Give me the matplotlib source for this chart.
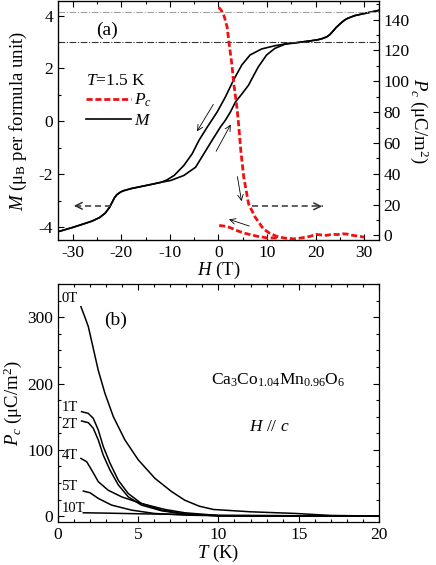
import numpy as np
import matplotlib
matplotlib.use('Agg')
import matplotlib.pyplot as plt
from matplotlib.ticker import MultipleLocator
from matplotlib.lines import Line2D

plt.rcParams['font.family'] = ['Liberation Serif', 'DejaVu Serif']
plt.rcParams['mathtext.fontset'] = 'custom'
plt.rcParams['mathtext.rm'] = 'Liberation Serif'
plt.rcParams['mathtext.it'] = 'Liberation Serif:italic'
plt.rcParams['mathtext.bf'] = 'Liberation Serif:bold'
plt.rcParams['axes.unicode_minus'] = False
plt.rcParams['font.size'] = 12

# ---------------- panel (a) data ----------------
# common low-field part (H < -12 T)
H_low = [-33, -32.2, -30, -27.8, -26, -24.4, -23.3, -22.4, -21.9, -21.4, -20.9, -20.3, -19.7, -18, -15.9, -13.8, -11.8]
M_low = [-4.18, -4.14, -4.02, -3.89, -3.78, -3.64, -3.48, -3.26, -3.08, -2.9, -2.78, -2.7, -2.64, -2.55, -2.47, -2.39, -2.31]
# branch measured with increasing field
H_inc = [-9.8, -7.1, -4.7, -3.0, -1.3, 0.4, 1.43, 2.45, 3.5, 4.8, 6.2, 7.2, 8.2, 9.9, 11.6, 13.7]
M_inc = [-2.24, -2.05, -1.74, -1.23, -0.72, -0.22, 0.04, 0.35, 0.73, 1.03, 1.37, 1.72, 2.06, 2.51, 2.76, 2.92]
# branch measured with decreasing field
H_dec = [14.4, 11.6, 8.9, 6.5, 4.8, 3.1, 1.43, -0.27, -2.3, -4.0, -5.4, -7.1, -9.1, -10.6]
M_dec = [2.95, 2.86, 2.74, 2.51, 2.13, 1.56, 0.92, 0.35, -0.22, -0.72, -1.23, -1.67, -2.05, -2.22]
# common high-field part (H > 15 T)
H_high = [15.4, 17, 19.1, 20.5, 21.5, 22.3, 22.9, 23.5, 24.2, 25.2, 26.0, 26.6, 28, 29.7, 31.5, 33]
M_high = [2.96, 3.0, 3.05, 3.09, 3.14, 3.2, 3.28, 3.4, 3.55, 3.72, 3.84, 3.9, 4.0, 4.07, 4.14, 4.2]

# Pc vs H: first sweep up from 0 T and return sweep
H_pc_up = [0.05, 0.6, 1.2, 1.8, 2.1, 2.8, 3.1, 3.8, 4.15, 4.6, 5.2, 6.2, 7.55, 9.25, 10.5, 12, 13.5, 15.4, 17, 18.8, 20.1, 21, 22.2, 23.5, 24.5, 25.6, 26.5, 27.6, 28.8, 30]
Pc_up = [148, 146, 142, 135, 127, 110, 100, 83, 72, 55, 38, 20.5, 11.9, 4.3, 1.5, -0.6, -1.6, -2.2, -1.6, -0.6, 0.7, 0.4, 0.1, 0.8, 0.6, 1.1, 0.9, 0.1, -0.4, -1.1]
H_pc_down = [12, 9.9, 8, 6.5, 5, 3.8, 2.8, 1.8, 1.0, 0.07]
Pc_down = [-1.6, -1.5, -0.5, 0.6, 1.8, 3.2, 4.6, 5.8, 6.2, 6.5]

M_ref_lines = [4.12, 2.99]

# ---------------- panel (b) data ----------------
T_0 = [1.43, 1.65, 1.89, 2.2, 2.51, 2.93, 3.45, 4.17, 5.0, 6.04, 7.08, 7.9, 8.8, 9.68, 12, 14.8, 17, 20]
P_0 = [316, 302, 286, 253, 220, 185, 150, 115, 85, 57, 37, 24, 15, 10, 6.5, 4, 1, 0]
T_1 = [1.47, 1.89, 2.2, 2.51, 2.82, 3.24, 3.76, 4.38, 5.2, 6.46, 7.9, 10, 20]
P_1 = [157.6, 155, 147.5, 130, 105, 80, 54, 34, 19, 9, 3, 0.5, 0]
T_2 = [1.47, 1.89, 2.2, 2.51, 2.82, 3.24, 3.76, 4.38, 5.2, 6.46, 7.9, 10, 20]
P_2 = [143.5, 141, 132.5, 115, 92, 69.5, 47, 29, 16.6, 8, 3, 0.5, 0]
T_4 = [1.43, 1.79, 2.1, 2.51, 3.13, 3.97, 5.2, 6.67, 7.9, 10, 20]
P_4 = [87, 82, 69.5, 52, 39, 29, 19, 10, 5, 1, 0]
T_5 = [1.58, 2.0, 2.51, 3.34, 4.59, 6.0, 7.9, 10, 20]
P_5 = [37.8, 35.2, 26.7, 16.6, 9, 4, 1.5, 0.5, 0]
T_10 = [1.58, 3, 5, 7.9, 10, 20]
P_10 = [5, 4.5, 3.5, 2.5, 1, 0]
curve_labels = ['0T', '1T', '2T', '4T', '5T', '10T']
label_P = [329, 164, 138, 92, 44, 12]

# ---------------- figure ----------------
fig = plt.figure(figsize=(4.36, 5.65), dpi=100)
ax = fig.add_axes([0.133, 0.575, 0.736, 0.423])
axb = fig.add_axes([0.133, 0.076, 0.736, 0.421])

TLS = 12.5   # tick label size
ALS = 13.5   # axis label size

def style(a, top=True, right=True):
    a.tick_params(which='both', direction='in', top=top, right=right, labelsize=TLS, width=0.8)
    a.tick_params(which='major', length=4)
    a.tick_params(which='minor', length=2.5)
    for s in a.spines.values():
        s.set_linewidth(0.9)

H_sweep_up = np.concatenate([H_low, H_inc, H_high])
M_sweep_up = np.concatenate([M_low, M_inc, M_high])
H_sweep_dn = np.concatenate([H_high[::-1], H_dec, H_low[::-1]])
M_sweep_dn = np.concatenate([M_high[::-1], M_dec, M_low[::-1]])

ax.plot(H_sweep_up, M_sweep_up, color='black', lw=1.2)
ax.plot(H_sweep_dn, M_sweep_dn, color='black', lw=1.2)
ax.axhline(M_ref_lines[0], color='#a0a0a0', lw=0.8, ls=(0, (6, 1.5, 1, 1.5)))
ax.axhline(M_ref_lines[1], color='#333333', lw=0.8, ls=(0, (6, 1.5, 1, 1.5)))
ax.set_xlim(-33, 33)
ax.set_ylim(-4.5, 4.55)
ax.xaxis.set_major_locator(MultipleLocator(10))
ax.xaxis.set_minor_locator(MultipleLocator(5))
ax.yaxis.set_major_locator(MultipleLocator(2))
ax.yaxis.set_minor_locator(MultipleLocator(1))
style(ax, top=True, right=False)
ax.set_xlabel('$H$ (T)', fontsize=ALS, labelpad=-0.5)
ax.set_ylabel('$M$ (μ$_\\mathrm{B}$ per formula unit)', fontsize=ALS, labelpad=7)

ax2 = ax.twinx()
ax2.plot(H_pc_up, Pc_up, color='#ee1111', lw=2.0, ls=(0, (2.2, 1.0)))
ax2.plot(H_pc_down, Pc_down, color='#ee1111', lw=2.0, ls=(0, (2.2, 1.0)))
ax2.set_ylim(-3, 152)
ax2.yaxis.set_major_locator(MultipleLocator(20))
ax2.yaxis.set_minor_locator(MultipleLocator(10))
ax2.tick_params(which='both', direction='in', labelsize=TLS, width=0.8)
ax2.tick_params(which='major', length=4)
ax2.tick_params(which='minor', length=2.5)
ax2.set_ylabel('$P_c$ (μC/m$^2$)', fontsize=ALS, rotation=270, labelpad=15)

# arrows on panel (a)
arr = dict(arrowstyle='->', lw=0.6, color='black', mutation_scale=10)
ax.annotate('', xy=(-4.7, -0.47), xytext=(-0.75, 0.73), arrowprops=arr)
ax.annotate('', xy=(2.8, -0.03), xytext=(-0.75, -1.23), arrowprops=arr)
ax.annotate('', xy=(4.85, -3.13), xytext=(3.8, -1.99), arrowprops=arr)
ax.annotate('', xy=(1.63, -3.68), xytext=(6.9, -4.0), arrowprops=arr)
# dashed double-direction arrows
ax.plot([-22.0, -30.0], [-3.2, -3.2], color='#333333', lw=1.1, ls=(0, (4, 2.5)))
ax.annotate('', xy=(-30.3, -3.2), xytext=(-28.5, -3.2),
            arrowprops=dict(arrowstyle='->', lw=1.1, color='#333333', mutation_scale=12))
ax.plot([6.9, 21.5], [-3.22, -3.22], color='#333333', lw=1.1, ls=(0, (4, 2.5)))
ax.annotate('', xy=(21.9, -3.22), xytext=(20.0, -3.22),
            arrowprops=dict(arrowstyle='->', lw=1.1, color='#333333', mutation_scale=12))

ax.text(-23, 3.46, '(a)', fontsize=14, ha='center', va='center')
handles = [Line2D([], [], color='#ee1111', lw=2.0, ls=(0, (2.2, 1.0))),
           Line2D([], [], color='black', lw=1.2)]
leg = ax2.legend(handles, ['$P_c$', '$M$'], title='$T$=1.5 K', frameon=False,
                 loc='upper left', bbox_to_anchor=(0.065, 0.73), fontsize=12.5,
                 title_fontsize=12.5, handlelength=2.6, handletextpad=0.15,
                 labelspacing=0.2, alignment='left', borderaxespad=0)

# ---------------- panel (b) ----------------
series = [(T_0, P_0), (T_1, P_1), (T_2, P_2), (T_4, P_4), (T_5, P_5), (T_10, P_10)]
for (T, P), lab, ly in zip(series, curve_labels, label_P):
    axb.plot(T, P, color='black', lw=1.1)
    axb.text(0.22, ly, lab, fontsize=10.5, ha='left', va='center')
axb.set_xlim(0, 20)
axb.set_ylim(-9, 350)
axb.xaxis.set_major_locator(MultipleLocator(5))
axb.xaxis.set_minor_locator(MultipleLocator(1))
axb.yaxis.set_major_locator(MultipleLocator(100))
axb.yaxis.set_minor_locator(MultipleLocator(25))
style(axb)
axb.set_xlabel('$T$ (K)', fontsize=ALS, labelpad=0)
axb.set_ylabel('$P_c$ (μC/m$^2$)', fontsize=ALS, labelpad=2)
axb.text(3.6, 296, '(b)', fontsize=14, ha='center', va='center')
axb.text(13.7, 205, 'Ca$_3$Co$_{1.04}$Mn$_{0.96}$O$_6$', fontsize=12.5, ha='center', va='center')
axb.text(13.2, 134, '$H$ // $c$', fontsize=12.5, ha='center', va='center')

fig.savefig('out.png', dpi=100)
